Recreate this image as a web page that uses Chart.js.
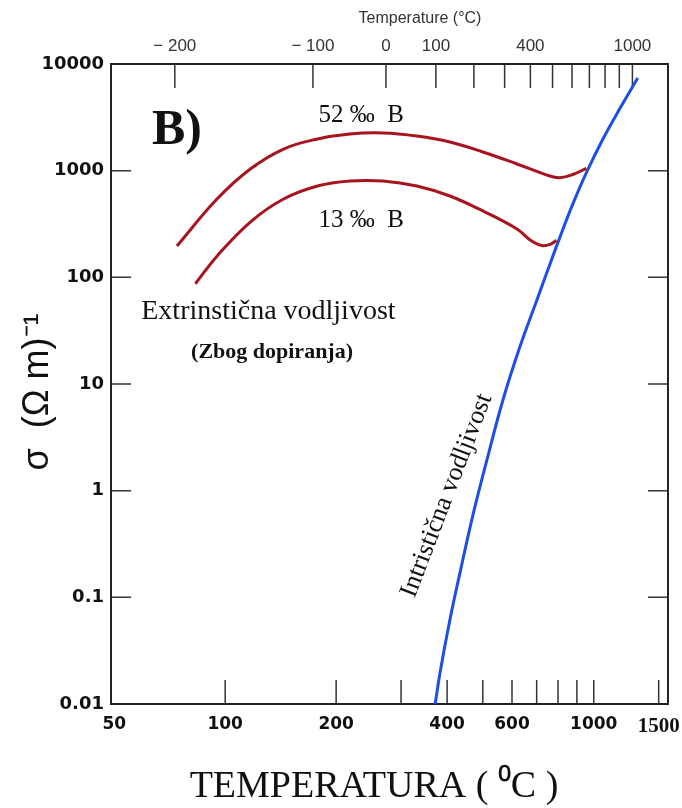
<!DOCTYPE html>
<html>
<head>
<meta charset="utf-8">
<script src="https://cdn.jsdelivr.net/npm/chart.js@4.4.1/dist/chart.umd.min.js"></script>
<style>
  html, body { margin: 0; padding: 0; background: #fff; }
  #wrap { width: 682px; height: 808px; }
</style>
</head>
<body>
<div id="wrap"><canvas id="sigmaChart" width="682" height="808"></canvas></div>
<script>
// temperature in K (bottom axis), sigma in (Ohm m)^-1
const temp52 = [74, 95, 117, 144, 178, 218, 268, 331, 407, 500, 619, 760, 809, 877, 955];
const sigma52 = [197, 542, 1037, 1596, 1982, 2208, 2256, 2113, 1857, 1497, 1155, 891, 860, 920, 1050];

const temp13 = [83, 95, 117, 144, 178, 218, 268, 331, 407, 500, 619, 672, 722, 762, 792];
const sigma13 = [87, 158, 330, 542, 718, 800, 800, 718, 579, 419, 284, 224, 199, 204, 222];

const tempIntr = [371, 383, 407, 434, 470, 513, 567, 630, 701, 746, 809, 877, 957, 1058, 1177, 1316];
const sigmaIntr = [0.0098, 0.020, 0.0614, 0.173, 0.591, 1.94, 7.08, 22.2, 61.3, 111, 237, 485, 972, 1972, 3819, 7390];

const bottomTicks = [100, 200, 300, 400, 500, 600, 700, 800, 900, 1000, 1500];
const bottomLabels = [50, 100, 200, 400, 600, 1000, 1500];
const topTicksC = [-200, -100, 0, 100, 200, 300, 400, 500, 600, 700, 800, 900, 1000];
const topLabelsC = [-200, -100, 0, 100, 400, 1000];
const sigmaTicks = [0.01, 0.1, 1, 10, 100, 1000, 10000];

// text inside the plot, placed in data units (K, sigma)
const notes = [
  { text: 'B)', x: 74, y: 2350, font: 'bold 50px "Liberation Serif"' },
  { text: '52 ‰  B', x: 234, y: 3320, font: '25px "Liberation Serif"' },
  { text: '13 ‰  B', x: 234, y: 345, font: '25px "Liberation Serif"' },
  { text: 'Extrinstična vodljivost', x: 131, y: 48, font: '28px "Liberation Serif"' },
  { text: '(Zbog dopiranja)', x: 134, y: 20, font: 'bold 22px "Liberation Serif"' },
  { text: 'Intristična vodljivost', x: 399, y: 0.9, font: '26px "Liberation Serif"', rot: -69 }
];

const toPoints = (xs, ys) => xs.map((x, i) => ({ x: x, y: ys[i] }));

const decor = {
  id: 'decor',
  beforeDatasetsDraw(chart) {
    const { ctx, chartArea: a, scales } = chart;
    ctx.save();
    ctx.strokeStyle = '#333';
    ctx.lineWidth = 1.5;
    ctx.beginPath();
    bottomTicks.forEach(v => {
      const px = scales.x.getPixelForValue(v);
      ctx.moveTo(px, a.bottom); ctx.lineTo(px, a.bottom - 24);
    });
    topTicksC.forEach(c => {
      const px = scales.xTop.getPixelForValue(c + 273);
      ctx.moveTo(px, a.top); ctx.lineTo(px, a.top + 24);
    });
    sigmaTicks.slice(1, -1).forEach(v => {
      const py = scales.y.getPixelForValue(v);
      ctx.moveTo(a.left, py); ctx.lineTo(a.left + 20, py);
      ctx.moveTo(a.right, py); ctx.lineTo(a.right - 20, py);
    });
    ctx.stroke();
    ctx.lineWidth = 2;
    ctx.strokeStyle = '#222';
    ctx.strokeRect(a.left, a.top, a.right - a.left, a.bottom - a.top);
    ctx.restore();
  },
  afterDraw(chart) {
    const { ctx, scales } = chart;
    ctx.save();
    ctx.fillStyle = '#111';
    ctx.textAlign = 'center';
    ctx.textBaseline = 'middle';
    notes.forEach(n => {
      ctx.save();
      ctx.translate(scales.x.getPixelForValue(n.x), scales.y.getPixelForValue(n.y));
      if (n.rot) ctx.rotate(n.rot * Math.PI / 180);
      ctx.font = n.font;
      ctx.fillText(n.text, 0, 0);
      ctx.restore();
    });

    // axis titles
    ctx.fillStyle = '#333';
    ctx.font = '16px "Liberation Sans"';
    ctx.fillText('Temperature (°C)', 420, 19);

    ctx.fillStyle = '#111';
    ctx.font = '38px "Liberation Serif"';
    ctx.fillText('TEMPERATURA ( \u2070C )', 374, 787);

    ctx.save();
    ctx.translate(38, 392);
    ctx.rotate(-Math.PI / 2);
    ctx.font = '36px "Liberation Sans"';
    ctx.fillText('σ  (Ω m)\u207B\u00B9', 0, 0);
    ctx.restore();
    ctx.restore();
  }
};

const noOverhang = s => { s.paddingLeft = 0; s.paddingRight = 0; s.paddingTop = 0; s.paddingBottom = 0; };

new Chart(document.getElementById('sigmaChart'), {
  type: 'scatter',
  data: {
    datasets: [
      { label: '52 ‰ B', data: toPoints(temp52, sigma52), borderColor: '#a8141e' },
      { label: '13 ‰ B', data: toPoints(temp13, sigma13), borderColor: '#a8141e' },
      { label: 'Intristična vodljivost', data: toPoints(tempIntr, sigmaIntr), borderColor: '#1d4fe6' }
    ].map(d => Object.assign(d, {
      showLine: true, pointRadius: 0, borderWidth: 3, tension: 0.4,
      xAxisID: 'x', yAxisID: 'y'
    }))
  },
  options: {
    responsive: false,
    animation: false,
    layout: { padding: { left: 0, right: 14, top: 0, bottom: 0 } },
    plugins: { legend: { display: false }, tooltip: { enabled: false } },
    scales: {
      x: {
        type: 'logarithmic', position: 'bottom', min: 49, max: 1590,
        afterBuildTicks: s => { s.ticks = bottomLabels.map(v => ({ value: v })); },
        afterFit: s => { s.height = 104; noOverhang(s); },
        grid: { display: false, drawTicks: false },
        border: { display: false },
        ticks: {
          autoSkip: false, maxRotation: 0, padding: 10, color: '#111',
          callback: v => String(v),
          font: c => ({
            family: c.tick && c.tick.value === 1500 ? 'Liberation Serif' : 'DejaVu Sans',
            weight: 'bold', size: c.tick && c.tick.value === 1500 ? 21 : 17
          })
        }
      },
      xTop: {
        type: 'logarithmic', position: 'top', min: 49, max: 1590,
        afterBuildTicks: s => { s.ticks = topLabelsC.map(c => ({ value: c + 273 })); },
        afterFit: s => { s.height = 64; noOverhang(s); },
        grid: { display: false, drawTicks: false },
        border: { display: false },
        ticks: {
          autoSkip: false, maxRotation: 0, padding: 7, color: '#333',
          font: { family: 'Liberation Sans', size: 17 },
          callback: v => {
            const c = Math.round(v - 273);
            return c < 0 ? '\u2212 ' + (-c) : String(c);
          }
        }
      },
      y: {
        type: 'logarithmic', min: 0.01, max: 10000,
        afterBuildTicks: s => { s.ticks = sigmaTicks.map(v => ({ value: v })); },
        afterFit: s => { s.width = 111; noOverhang(s); },
        grid: { display: false, drawTicks: false },
        border: { display: false },
        ticks: {
          padding: 7, color: '#111',
          font: { family: 'DejaVu Sans', weight: 'bold', size: 18 },
          callback: v => String(v)
        }
      }
    }
  },
  plugins: [decor]
});
</script>
</body>
</html>
